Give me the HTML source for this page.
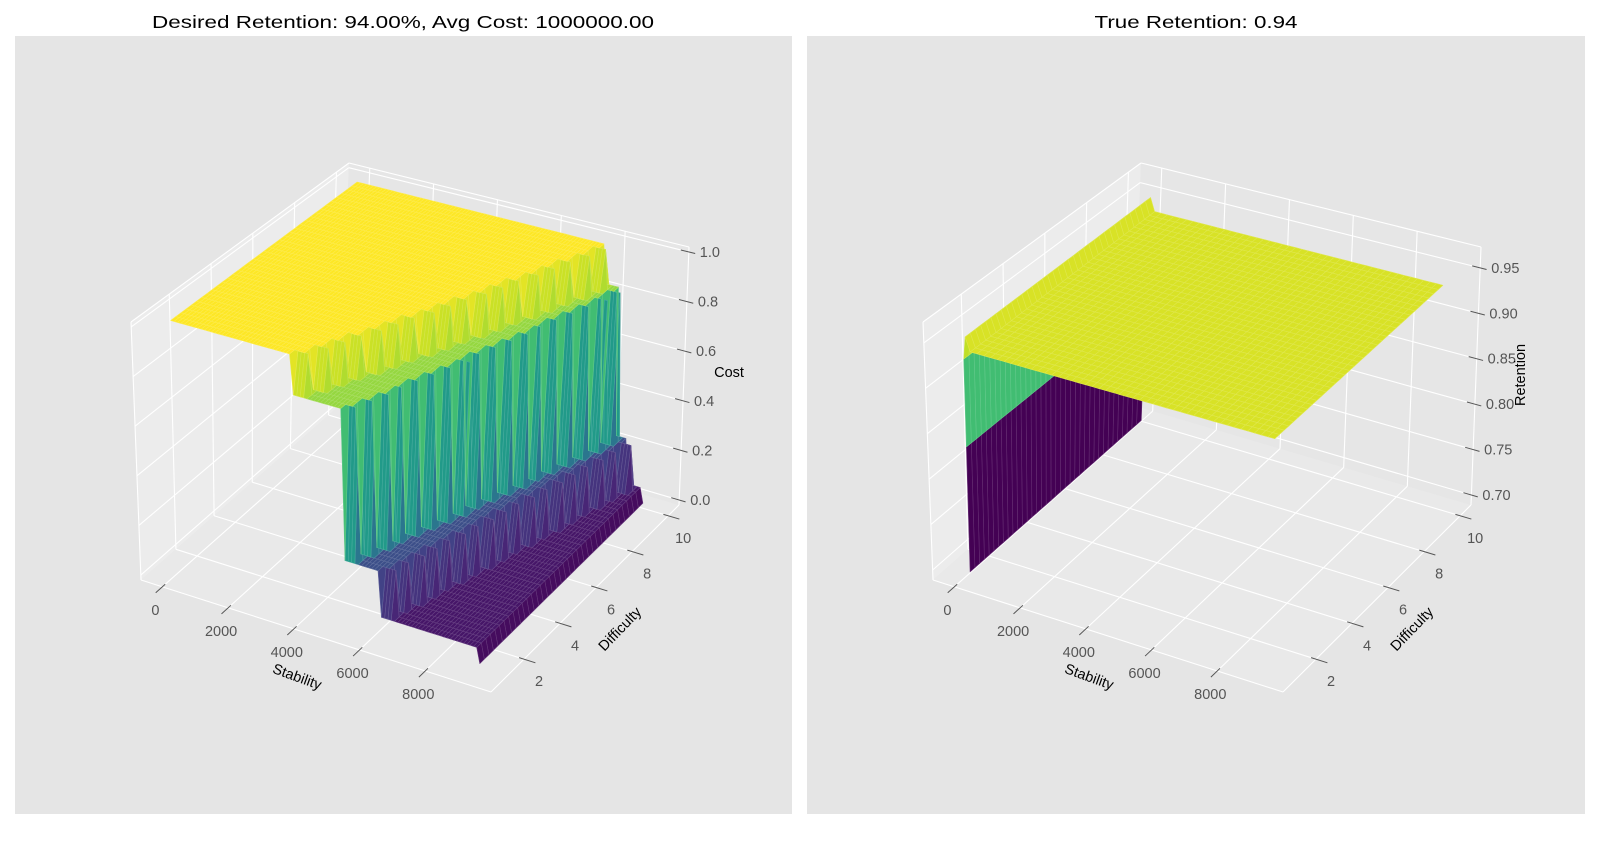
<!DOCTYPE html>
<html><head><meta charset="utf-8">
<style>
html,body{margin:0;padding:0;background:#fff;}
svg{display:block;font-family:"Liberation Sans","DejaVu Sans",sans-serif;}
</style></head>
<body>
<svg id="fig" width="1600" height="850" viewBox="0 0 1600 850" xmlns="http://www.w3.org/2000/svg">
  <rect x="15" y="36" width="777" height="778" fill="#e5e5e5"/>
  <rect x="807" y="36" width="778" height="778" fill="#e5e5e5"/>
  <text x="403" y="28" text-anchor="middle" font-size="17.5" textLength="502" lengthAdjust="spacingAndGlyphs" fill="#000">Desired Retention: 94.00%, Avg Cost: 1000000.00</text>
  <text x="1196" y="28" text-anchor="middle" font-size="17.5" textLength="203" lengthAdjust="spacingAndGlyphs" fill="#000">True Retention: 0.94</text>
  <g id="left"></g>
  <g id="right"></g>
</svg>
<script>
// ---------- data ----------
const stabilityTicks = [0, 2000, 4000, 6000, 8000];
const difficultyTicks = [2, 4, 6, 8, 10];
const costTicks = [0.0, 0.2, 0.4, 0.6, 0.8, 1.0];
const costTickLabels = ["0.0", "0.2", "0.4", "0.6", "0.8", "1.0"];
const retentionTicks = [0.70, 0.75, 0.80, 0.85, 0.90, 0.95];
const retentionTickLabels = ["0.70", "0.75", "0.80", "0.85", "0.90", "0.95"];
// cost levels of the stepped surface (yellow, green, blue, purple) and the last column
const costLevels = [1.0, 0.84, 0.24, 0.06];
const costEdge = 0.0;
// difficulty rows (1 .. 10)
const difficultyRows = [1,1.25,1.5,1.75,2,2.25,2.5,2.75,3,3.25,3.5,3.75,4,4.25,4.5,4.75,5,5.25,5.5,5.75,6,6.25,6.5,6.75,7,7.25,7.5,7.75,8,8.25,8.5,8.75,9,9.25,9.5,9.75,10];
// stability thresholds per difficulty row where the cost steps down
const thresholdYellow = [3600,4000,3850,4250,4050,4500,4300,4700,4550,4950,4750,5200,5000,5400,5250,5650,5450,5900,5700,6100,5950,6350,6150,6600,6400,6800,6650,7050,6850,7300,7100,7500,7350,7750,7550,8000,7800];
const thresholdGreen = [5100,5500,5300,5650,5450,5850,5650,6000,5800,6200,6000,6400,6150,6550,6350,6750,6500,6900,6700,7100,6900,7250,7050,7450,7250,7600,7400,7800,7600,8000,7750,8150,7950,8350,8100,8500,8300];
const thresholdBlue = [6200,6550,6350,6700,6500,6850,6600,7000,6750,7100,6900,7250,7050,7400,7150,7550,7300,7700,7450,7800,7600,7950,7750,8100,7850,8250,8000,8400,8150,8500,8300,8650,8450,8800,8550,8950,8700];
const stabilityMax = 9200;
// retention surface: wall at stability 0 then plateau
const retentionWall = [0.69, 0.828, 0.925];
const retentionWallColour = [0.69, 0.87];
const retentionRim = 0.95;
const retentionPlateau = 0.935;

// ---------- geometry ----------
const NS = "http://www.w3.org/2000/svg";
const baseCorners = {A:[141,580],B:[491,692],C:[679,505],D:[340,405],A2:[131,322],B2:[495,425],C2:[689,247],D2:[349,163]};
const sRange = [-650, 10000], dRange = [0.17, 10.6];
function makeProj(dx, zRange){
  const c = {};
  for (const k in baseCorners) c[k] = [baseCorners[k][0]+dx, baseCorners[k][1]];
  return function(s,d,z){
    const u=(s-sRange[0])/(sRange[1]-sRange[0]), v=(d-dRange[0])/(dRange[1]-dRange[0]), w=(z-zRange[0])/(zRange[1]-zRange[0]);
    function bil(p00,p10,p11,p01){
      return [p00[0]*(1-u)*(1-v)+p10[0]*u*(1-v)+p11[0]*u*v+p01[0]*(1-u)*v,
              p00[1]*(1-u)*(1-v)+p10[1]*u*(1-v)+p11[1]*u*v+p01[1]*(1-u)*v];
    }
    const lo=bil(c.A,c.B,c.C,c.D), hi=bil(c.A2,c.B2,c.C2,c.D2);
    return {x:lo[0]*(1-w)+hi[0]*w, y:lo[1]*(1-w)+hi[1]*w, n:228*u-372*v+148*w};
  };
}
const VIR=["#440154","#482475","#414487","#355f8d","#2a788e","#21918c","#22a884","#44bf70","#7ad151","#bddf26","#fde725"];
function hex(h){return [parseInt(h.slice(1,3),16),parseInt(h.slice(3,5),16),parseInt(h.slice(5,7),16)];}
function viridis(t){
  t=Math.max(0,Math.min(1,t)); const f=t*10, i=Math.min(9,Math.floor(f)), r=f-i;
  const a=hex(VIR[i]), b=hex(VIR[i+1]);
  return a.map((x,k)=>Math.round(x+(b[k]-x)*r));
}
function rgb(c){return "rgb("+c[0]+","+c[1]+","+c[2]+")";}
function el(tag, attrs, parent){
  const e=document.createElementNS(NS,tag);
  for(const k in attrs) e.setAttribute(k,attrs[k]);
  parent.appendChild(e); return e;
}
function pts(arr){return arr.map(p=>p.x.toFixed(1)+","+p.y.toFixed(1)).join(" ");}

function drawAxes(g, P, zRange, zTicks, zLabels, zTitle, zTitlePos){
  const s0=sRange[0], s1=sRange[1], d0=dRange[0], d1=dRange[1], z0=zRange[0], z1=zRange[1];
  const paneL = el('polygon',{points:pts([P(s0,d0,z0),P(s0,d1,z0),P(s0,d1,z1),P(s0,d0,z1)]),fill:'#ececec'},g);
  
  
  const paneB = el('polygon',{points:pts([P(s0,d1,z0),P(s1,d1,z0),P(s1,d1,z1),P(s0,d1,z1)]),fill:'#e6e6e6'},g);
  
  
  const paneF = el('polygon',{points:pts([P(s0,d0,z0),P(s1,d0,z0),P(s1,d1,z0),P(s0,d1,z0)]),fill:'#e9e9e9'},g);
  
  
  const grid = el('g',{stroke:'#ffffff','stroke-width':1.1,fill:'none'},g);
  
  
  function line(a,b){ el('line',{x1:a.x,y1:a.y,x2:b.x,y2:b.y},grid); }
  stabilityTicks.forEach(s=>{ line(P(s,d0,z0),P(s,d1,z0)); line(P(s,d1,z0),P(s,d1,z1)); });
  difficultyTicks.forEach(d=>{ line(P(s0,d,z0),P(s1,d,z0)); line(P(s0,d,z0),P(s0,d,z1)); });
  zTicks.forEach(z=>{ line(P(s0,d0,z),P(s0,d1,z)); line(P(s0,d1,z),P(s1,d1,z)); });
  line(P(s0,d0,z0),P(s1,d0,z0)); line(P(s1,d0,z0),P(s1,d1,z0));
  line(P(s1,d1,z0),P(s1,d1,z1)); line(P(s0,d1,z1),P(s1,d1,z1)); line(P(s0,d0,z1),P(s0,d1,z1));
  line(P(s0,d0,z0),P(s0,d0,z1));
  const tk = el('g',{stroke:'#555','stroke-width':1},g);
  
  
  const lab = el('g',{fill:'#555','font-size':14.5},g);
  
  
  stabilityTicks.forEach(s=>{
    const a=P(s,d0-0.35,z0), b=P(s,d0+0.15,z0), p=P(s,d0,z0);
    el('line',{x1:a.x,y1:a.y,x2:b.x,y2:b.y},tk);
    const t=el('text',{x:p.x-7,y:p.y+28,'text-anchor':'middle'},lab); t.textContent=String(s);
    
    
  });
  difficultyTicks.forEach(d=>{
    const a=P(s1-150,d,z0), b=P(s1+350,d,z0), p=P(s1,d,z0);
    el('line',{x1:a.x,y1:a.y,x2:b.x,y2:b.y},tk);
    const t=el('text',{x:p.x+15,y:p.y+27,'text-anchor':'middle'},lab); t.textContent=String(d);
    
    
  });
  zTicks.forEach((z,i)=>{
    const a=P(s1-250,d1,z), b=P(s1+200,d1,z), p=P(s1,d1,z);
    el('line',{x1:a.x,y1:a.y,x2:b.x,y2:b.y},tk);
    const t=el('text',{x:p.x+11,y:p.y+5,'text-anchor':'start'},lab); t.textContent=zLabels[i];
    
    
  });
  const sp=P(4600,d0,z0);
  const st=el('text',{x:0,y:0,'font-size':14.5,'text-anchor':'middle',fill:'#000',transform:'translate('+(sp.x-18)+','+(sp.y+6+40)+') rotate(20)'},g);
  st.textContent='Stability';
  
  
  const dp=P(s1,5.4,z0);
  const dt=el('text',{x:0,y:0,'font-size':14.5,'text-anchor':'middle',fill:'#000',transform:'translate('+(dp.x+38)+','+(dp.y+34)+') rotate(-46)'},g);
  dt.textContent='Difficulty';
  
  
  const zt=el('text',{x:0,y:0,'font-size':14.5,'text-anchor':'middle',fill:'#000',transform:'translate('+zTitlePos[0]+','+zTitlePos[1]+') rotate('+zTitlePos[2]+')'},g);
  zt.textContent=zTitle;
  
  
}

function drawSurface(g, P, sNodes, dNodes, zAt, colourAt, vmin, vmax, name){
  const quads=[];
  for(let j=0;j<dNodes.length-1;j++){
    for(let i=0;i<sNodes.length-1;i++){
      const zs=[zAt(i,j),zAt(i+1,j),zAt(i+1,j+1),zAt(i,j+1)];
      const ps=[P(sNodes[i],dNodes[j],zs[0]),P(sNodes[i+1],dNodes[j],zs[1]),P(sNodes[i+1],dNodes[j+1],zs[2]),P(sNodes[i],dNodes[j+1],zs[3])];
      const val = colourAt(i,j,zs);
      const n=(ps[0].n+ps[1].n+ps[2].n+ps[3].n)/4;
      quads.push({ps,val,n});
    }
  }
  quads.sort((a,b)=>a.n-b.n);
  const sg=el('g',{'stroke-width':0.6,'stroke-linejoin':'round'},g);
  
  
  quads.forEach(q=>{
    const c=viridis((q.val-vmin)/(vmax-vmin));
    const lc=c.map(x=>Math.round(x+(255-x)*0.18));
    const poly=el('polygon',{points:pts(q.ps),fill:rgb(c),stroke:rgb(lc)},sg);
    
    
  });
}

// ---------- left chart ----------
(function(){
  const g=document.getElementById('left');
  const zRange=[-0.02,1.02];
  const P=makeProj(0,zRange);
  drawAxes(g,P,zRange,costTicks,costTickLabels,'Cost',[729,377,0]);
  const sNodes=[]; for(let s=0;s<=stabilityMax;s+=100) sNodes.push(s);
  const last=sNodes.length-1;
  function zAt(i,j){
    if(i===last) return costEdge;
    const s=sNodes[i];
    if(s<thresholdYellow[j]) return costLevels[0];
    if(s<thresholdGreen[j]) return costLevels[1];
    if(s<thresholdBlue[j]) return costLevels[2];
    return costLevels[3];
  }
  drawSurface(g,P,sNodes,difficultyRows,zAt,(i,j,zs)=>(zs[0]+zs[1]+zs[2]+zs[3])/4,0,1,'cost-surface');
})();

// ---------- right chart ----------
(function(){
  const g=document.getElementById('right');
  const zRange=[0.689,0.973];
  const P=makeProj(792,zRange);
  drawAxes(g,P,zRange,retentionTicks,retentionTickLabels,'Retention',[1525,375,-90]);
  const sNodes=[0,0,0,60]; for(let s=200;s<=stabilityMax;s+=200) sNodes.push(s);
  function zAt(i,j){
    if(i<retentionWall.length) return retentionWall[i];
    if(i===3) return retentionRim;
    return retentionPlateau;
  }
  function colourAt(i,j,zs){
    if(i<retentionWallColour.length) return retentionWallColour[i];
    return Math.min(...zs);
  }
  drawSurface(g,P,sNodes,difficultyRows,zAt,colourAt,0.69,0.95,'retention-surface');
})();
</script>
</body></html>
